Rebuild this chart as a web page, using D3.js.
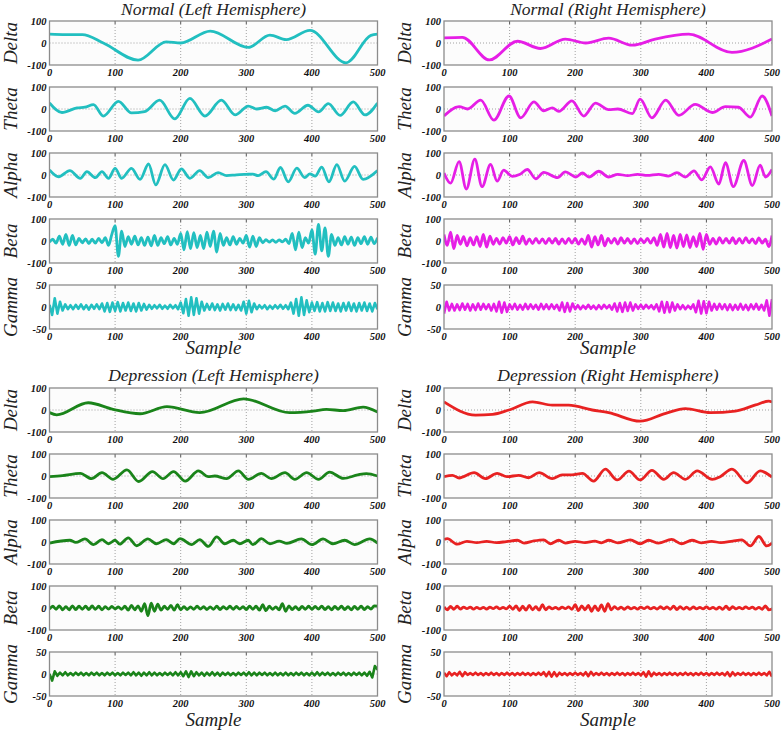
<!DOCTYPE html>
<html>
<head>
<meta charset="utf-8">
<script src="https://cdn.jsdelivr.net/npm/d3@7"></script>
<style>
  body { margin: 0; background: #fff; }
  svg text { font-family: "Liberation Serif", "DejaVu Serif", serif; font-style: italic; }
  .tick-label { font-weight: bold; font-size: 10.5px; fill: #111; }
  .band-label { font-size: 19px; fill: #222; }
  .title { font-size: 17.5px; fill: #222; }
  .xlabel { font-size: 19px; fill: #222; }
</style>
</head>
<body>
<svg id="chart" width="784" height="733"></svg>
<script>
var bands = ['Delta', 'Theta', 'Alpha', 'Beta', 'Gamma'];
var xTicks = [0, 100, 200, 300, 400, 500];
var yTicksWide = [-100, 0, 100];
var yTicksGamma = [-50, 0, 50];

// beta and gamma are listed as samples taken every few points
var betaStep = 5;
var gammaStep = 4;

// ---- Normal, left hemisphere ([sample, value] turning points)
var nlDelta = [[0,40],[25,38],[50,38],[82,0],[135,-78],[178,5],[200,0],[245,54],[303,-20],[336,36],[361,15],[397,57],[452,-90],[490,35],[500,40]];
var nlTheta = [[0,28],[19,-16],[42,5],[54,8],[67,20],[82,-32],[105,35],[125,-18],[145,-12],[168,40],[191,-45],[214,48],[237,-32],[262,40],[283,-27],[303,13],[316,0],[331,8],[344,-8],[359,13],[374,-20],[394,17],[410,-13],[425,24],[443,-29],[463,32],[481,-27],[500,27]];
var nlAlpha = [[0,23],[14,-8],[31,20],[47,-15],[57,15],[70,-12],[80,15],[90,-15],[100,30],[110,-15],[125,30],[138,-20],[151,50],[162,-45],[176,47],[189,-23],[201,28],[214,-15],[229,20],[242,-12],[257,11],[270,-3],[285,1],[300,3],[310,4],[318,-3],[330,15],[342,-19],[352,34],[364,-31],[377,31],[389,-12],[397,5],[405,-5],[415,36],[426,-31],[438,47],[450,-28],[465,39],[478,-20],[500,20]];
var nlBeta = [
  -5, 8, -10, 22, -15, 30, -20, 25, -18, 12,
  -8, 10, -12, 8, -10, 12, -8, 15, -20, 30,
  70, -70, 45, -25, 20, -15, 22, -18, 15, -20,
  18, -22, 25, -20, 15, -12, 20, -18, 12, -15,
  35, -40, 42, -35, 38, -30, 25, -35, 40, -25,
  45, -50, 35, -20, 15, -18, 20, -15, 12, -10,
  25, -28, 22, -25, 15, -8, 6, -5, 5, -6,
  5, -4, 8, -12, 35, -40, 40, -30, 15, -10,
  50, -60, 75, -45, 60, -70, 30, -20, 15, -18,
  20, -15, 18, -20, 15, -12, 20, -15, 18, -12,
  15];
var nlGamma = [
  5, -18, 20, -15, 12, -8, 6, -5, 4, -5,
  5, -4, 6, -5, 4, -6, 5, -4, 6, -5,
  8, -10, 9, -11, 10, -9, 11, -10, 9, -8,
  10, -9, 8, -10, 9, -8, 7, -6, 5, -4,
  4, -3, 5, -4, 3, -4, 5, -3, 4, -5,
  10, -14, 18, -20, 22, -18, 20, -15, 12, -8,
  7, -6, 8, -7, 6, -8, 7, -6, 8, -7,
  6, -7, 5, -8, 12, -15, 14, -12, 8, -5,
  4, -3, 4, -5, 3, -4, 4, -3, 5, -4,
  4, -5, 10, -15, 18, -20, 22, -18, 15, -12,
  10, -9, 11, -10, 9, -10, 11, -9, 10, -9,
  8, -10, 9, -8, 10, -9, 8, -10, 9, -8,
  10, -9, 8, -10, 9, -5];

// ---- Normal, right hemisphere
var nrDelta = [[0,23],[28,26],[69,-77],[112,8],[147,-25],[185,18],[216,0],[251,22],[287,-10],[322,18],[373,40],[439,-43],[500,18]];
var nrTheta = [[0,-32],[23,11],[36,0],[56,40],[76,-51],[99,59],[117,-40],[137,32],[152,-8],[165,5],[175,-11],[195,37],[213,-32],[231,27],[251,-3],[265,0],[287,-21],[299,45],[317,-40],[338,40],[358,-29],[383,21],[409,-16],[429,11],[449,8],[467,-37],[485,59],[500,-32]];
var nrAlpha = [[0,9],[10,-37],[23,61],[34,-64],[47,72],[58,-53],[71,48],[81,-28],[91,22],[104,-6],[115,2],[127,25],[140,-17],[152,12],[173,-12],[185,14],[201,-9],[211,9],[221,-9],[236,17],[251,-9],[265,3],[280,-3],[295,3],[310,-2],[327,3],[342,-5],[355,11],[368,-9],[381,19],[393,-22],[406,37],[419,-41],[429,56],[441,-53],[457,66],[470,-48],[482,45],[490,-9],[500,25]];
var nrBeta = [
  30, -20, 40, -35, 25, -15, 20, -22, 15, -18,
  20, -25, 30, -28, 22, -15, 12, -14, 15, -10,
  20, -18, 15, -12, 22, -15, 10, -12, 12, -10,
  10, -12, 12, -10, 12, -14, 10, -12, 12, -10,
  12, -14, 10, -15, 25, -28, 20, -18, 25, -22,
  12, -10, 12, -14, 15, -10, 12, -12, 10, -12,
  10, -8, 12, -10, 15, -20, 30, -28, 35, -30,
  25, -32, 30, -25, 28, -30, 20, -25, 35, -38,
  30, -15, 12, -14, 15, -10, 12, -10, 15, -12,
  12, -10, 15, -8, 10, -12, 14, -10, 8, -25,
  25];
var nrGamma = [
  -15, 12, -8, 7, -8, 6, -7, 8, -6, 7,
  -8, 6, -7, 8, -6, 7, -5, 6, -8, 7,
  -10, 12, -13, 10, -11, 6, -5, 7, -6, 5,
  -6, 7, -5, 6, -4, 5, -6, 7, -5, 6,
  -5, 6, -4, 5, -8, 10, -11, 9, -10, 8,
  -5, 4, -5, 3, -4, 5, -4, 3, -5, 4,
  -4, 5, -3, 4, -6, 8, -10, 9, -11, 10,
  -9, 10, -8, 6, -4, 5, -4, 5, -3, 4,
  -5, 6, -10, 12, -13, 11, -12, 10, -8, 6,
  -5, 4, -5, 3, -4, 6, -12, 14, -15, 13,
  -14, 12, -8, 7, -6, 7, -5, 6, -7, 6,
  -7, 5, -6, 7, -6, 5, -7, 6, -5, 7,
  -6, 5, -8, 15, -20, 18];

// ---- Depression, left hemisphere
var dlDelta = [[0,-12],[11,-22],[59,33],[97,3],[138,-17],[179,15],[229,-12],[296,51],[366,-12],[402,-5],[422,3],[448,-3],[478,13],[500,-9]];
var dlTheta = [[0,-3],[20,2],[47,12],[64,-12],[80,15],[97,-15],[118,28],[136,-25],[157,20],[173,-12],[189,20],[207,-23],[227,23],[242,-3],[252,0],[270,-12],[288,23],[303,-15],[323,12],[338,-12],[359,15],[374,-15],[392,15],[410,-15],[427,18],[448,-11],[470,5],[483,11],[500,0]];
var dlAlpha = [[0,-5],[31,8],[40,-2],[54,14],[67,-12],[80,11],[90,-8],[100,8],[107,-10],[120,19],[133,-17],[150,14],[163,-8],[178,11],[189,-8],[199,15],[217,-12],[229,11],[242,-20],[255,23],[267,-8],[280,8],[290,-8],[303,8],[310,-12],[323,15],[336,-8],[350,4],[362,-6],[384,14],[400,-12],[417,14],[432,-8],[450,8],[465,-12],[488,14],[500,-5]];
var dlBeta = [
  -5, 8, -6, 10, -8, 6, -8, 10, -7, 8,
  -6, 8, -7, 9, -6, 8, -8, 6, -5, 7,
  -4, 5, -6, 8, -10, 12, -8, 10, -15, 20,
  -35, 22, -15, 18, -10, 8, -6, 12, -10, 15,
  -8, 6, -7, 5, -6, 8, -5, 6, -7, 5,
  -6, 8, -7, 6, -5, 8, -6, 7, -5, 6,
  -7, 8, -6, 8, -10, 15, -12, 8, -6, 5,
  -8, 20, -15, 10, -7, 6, -8, 7, -6, 8,
  -6, 7, -5, 8, -7, 6, -8, 7, -6, 8,
  -7, 6, -8, 7, -6, 8, -7, 6, -5, 10,
  8];
var dlGamma = [
  0, -15, 6, -4, 3, -3, 4, -3, 2, -3,
  3, -2, 3, -3, 2, -3, 3, -2, 3, -3,
  2, -3, 3, -2, 3, -3, 2, -3, 3, -2,
  3, -3, 4, -3, 3, -4, 3, -3, 4, -3,
  3, -3, 2, -3, 3, -2, 3, -3, 4, -3,
  4, -5, 6, -7, 6, -5, 4, -3, 3, -4,
  3, -3, 4, -3, 3, -4, 3, -2, 3, -3,
  2, -3, 3, -2, 3, -3, 4, -3, 3, -3,
  3, -2, 3, -3, 2, -3, 3, -3, 2, -3,
  3, -3, 2, -3, 3, -2, 3, -3, 2, -3,
  3, -3, 4, -3, 3, -2, 3, -3, 2, -3,
  3, -2, 3, -3, 2, -3, 3, -2, 3, -3,
  3, -4, 5, -8, 18, 10];

// ---- Depression, right hemisphere
var drDelta = [[0,37],[48,-23],[74,-20],[99,0],[135,37],[165,22],[190,22],[226,0],[251,-12],[299,-51],[338,-15],[368,6],[406,-12],[444,-5],[475,23],[495,40],[500,37]];
var drTheta = [[0,-3],[13,3],[23,-9],[46,15],[63,-12],[81,12],[96,-3],[114,3],[129,-8],[145,15],[165,-12],[180,5],[195,5],[211,12],[228,-23],[246,31],[264,-18],[282,22],[299,-18],[317,26],[335,-15],[350,15],[368,-15],[386,23],[409,-15],[421,-3],[439,31],[462,-31],[482,23],[500,-5]];
var drAlpha = [[0,12],[5,15],[20,-10],[35,3],[50,-3],[65,3],[80,-3],[95,2],[112,8],[122,-5],[137,5],[152,10],[162,-8],[175,8],[185,-5],[200,3],[215,-3],[230,4],[240,-4],[251,8],[265,-4],[284,10],[299,-8],[312,8],[327,-5],[347,12],[362,-8],[378,8],[392,-4],[408,3],[422,-3],[440,4],[454,10],[467,-18],[480,25],[492,-18],[500,-5]];
var drBeta = [
  5, -8, 7, -6, 8, -5, 4, -3, 4, -5,
  3, -4, 3, -5, 4, -3, 5, -4, 3, -4,
  8, -6, 10, -12, 8, -10, 12, -8, 6, -10,
  15, -8, 5, -4, 3, -5, 4, -3, 5, -6,
  15, -12, 10, -8, 12, -15, 10, -12, 14, -15,
  20, -8, 6, -5, 4, -6, 5, -4, 3, -5,
  4, -3, 5, -4, 3, -5, 6, -4, 5, -6,
  8, -7, 6, -5, 4, -6, 5, -4, 3, -4,
  5, -4, 3, -5, 4, -6, 8, -7, 6, -4,
  3, -4, 5, -3, 4, -5, 3, -6, 10, -8,
  -5];
var drGamma = [
  3, -5, 4, -3, 2, -3, 5, -5, 4, -2,
  2, -2, 3, -2, 2, -3, 2, -2, 3, -2,
  2, -3, 2, -2, 3, -2, 2, -3, 2, -2,
  3, -2, 2, -3, 2, -2, 3, -2, 4, -5,
  5, -6, 4, -5, 3, -2, 2, -3, 2, -2,
  3, -2, 2, -3, 4, -5, 5, -3, 2, -2,
  3, -2, 2, -3, 2, -2, 3, -2, 2, -3,
  2, -2, 3, -2, 2, -3, 4, -6, 6, -5,
  3, -2, 2, -3, 2, -2, 3, -2, 2, -3,
  2, -2, 3, -2, 2, -3, 2, -2, 3, -2,
  2, -3, 2, -2, 3, -2, 2, -3, 4, -5,
  4, -3, 2, -2, 3, -2, 2, -3, 2, -2,
  3, -2, 2, -3, 5, -6];

function stepped(values, step) {
  return values.map(function(v, i) { return [i * step, v]; });
}

var groups = [
  { title: 'Normal (Left Hemisphere)', color: '#22bfc0', left: 49.5, top: 21, titleY: 15, sampleY: 354,
    series: [nlDelta, nlTheta, nlAlpha, stepped(nlBeta, betaStep), stepped(nlGamma, gammaStep)] },
  { title: 'Normal (Right Hemisphere)', color: '#e61ee6', left: 444, top: 21, titleY: 15, sampleY: 354,
    series: [nrDelta, nrTheta, nrAlpha, stepped(nrBeta, betaStep), stepped(nrGamma, gammaStep)] },
  { title: 'Depression (Left Hemisphere)', color: '#1a841a', left: 49.5, top: 388, titleY: 381, sampleY: 726,
    series: [dlDelta, dlTheta, dlAlpha, stepped(dlBeta, betaStep), stepped(dlGamma, gammaStep)] },
  { title: 'Depression (Right Hemisphere)', color: '#e82222', left: 444, top: 388, titleY: 381, sampleY: 726,
    series: [drDelta, drTheta, drAlpha, stepped(drBeta, betaStep), stepped(drGamma, gammaStep)] }
];

var plotW = 328, plotH = 44, pitch = 66;
var svg = d3.select('#chart');
var clipId = 0;

groups.forEach(function(g) {
  var x = d3.scaleLinear().domain([0, 500]).range([g.left, g.left + plotW]);
  var cx = g.left + plotW / 2;

  svg.append('text').attr('class', 'title')
    .attr('x', cx).attr('y', g.titleY)
    .attr('text-anchor', 'middle')
    .text(g.title);

  bands.forEach(function(band, i) {
    var top = g.top + i * pitch;
    var ticks = band === 'Gamma' ? yTicksGamma : yTicksWide;
    var y = d3.scaleLinear().domain([ticks[0], ticks[2]]).range([top + plotH, top]);
    var panel = svg.append('g');

    panel.append('rect')
      .attr('x', g.left).attr('y', top)
      .attr('width', plotW).attr('height', plotH)
      .attr('fill', '#fcfcfc');

    // dotted grid
    panel.selectAll('line.vgrid')
      .data(xTicks.slice(1, -1))
      .enter().append('line')
      .attr('x1', function(d) { return x(d); }).attr('x2', function(d) { return x(d); })
      .attr('y1', top).attr('y2', top + plotH)
      .attr('stroke', '#8a8a8a').attr('stroke-width', 0.8)
      .attr('stroke-dasharray', '1,2');
    panel.append('line')
      .attr('x1', g.left).attr('x2', g.left + plotW)
      .attr('y1', y(0)).attr('y2', y(0))
      .attr('stroke', '#8a8a8a').attr('stroke-width', 0.8)
      .attr('stroke-dasharray', '1,2');

    // small inward ticks
    panel.selectAll('line.tk')
      .data(xTicks.slice(1, -1))
      .enter().append('line')
      .attr('x1', function(d) { return x(d); }).attr('x2', function(d) { return x(d); })
      .attr('y1', top).attr('y2', top + 3)
      .attr('stroke', '#555').attr('stroke-width', 1);

    var cid = 'clip' + (clipId++);
    panel.append('clipPath').attr('id', cid)
      .append('rect')
      .attr('x', g.left).attr('y', top)
      .attr('width', plotW).attr('height', plotH);

    // gamma is so fast that it reads as a band: straight segments there
    var line = d3.line()
      .x(function(d) { return x(d[0]); })
      .y(function(d) { return y(d[1]); })
      .curve(band === 'Gamma' ? d3.curveLinear : d3.curveMonotoneX);

    panel.append('path')
      .datum(g.series[i])
      .attr('clip-path', 'url(#' + cid + ')')
      .attr('fill', 'none')
      .attr('stroke', g.color)
      .attr('stroke-width', band === 'Gamma' ? 2.6 : 2.8)
      .attr('stroke-linejoin', 'round')
      .attr('d', line);

    panel.append('rect')
      .attr('x', g.left).attr('y', top)
      .attr('width', plotW).attr('height', plotH)
      .attr('fill', 'none')
      .attr('stroke', '#8c8c8c').attr('stroke-width', 1.3);

    // tick labels
    panel.selectAll('text.yt')
      .data(ticks)
      .enter().append('text')
      .attr('class', 'tick-label')
      .attr('x', g.left - 3)
      .attr('y', function(d) { return y(d); })
      .attr('dy', '0.35em')
      .attr('text-anchor', 'end')
      .text(function(d) { return d; });

    panel.selectAll('text.xt')
      .data(xTicks)
      .enter().append('text')
      .attr('class', 'tick-label')
      .attr('x', function(d) { return x(d); })
      .attr('y', top + plotH + 11)
      .attr('text-anchor', 'middle')
      .text(function(d) { return d; });

    panel.append('text')
      .attr('class', 'band-label')
      .attr('transform', 'translate(' + (g.left - 33) + ',' + (top + plotH / 2) + ') rotate(-90)')
      .attr('text-anchor', 'middle')
      .text(band);
  });

  svg.append('text').attr('class', 'xlabel')
    .attr('x', cx).attr('y', g.sampleY)
    .attr('text-anchor', 'middle')
    .text('Sample');
});
</script>
</body>
</html>
